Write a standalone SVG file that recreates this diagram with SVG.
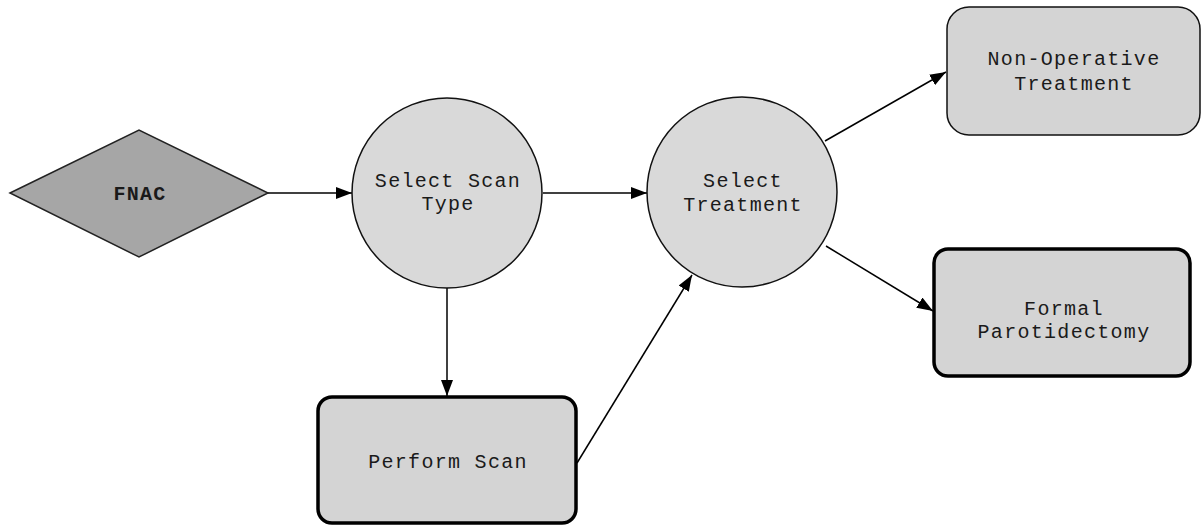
<svg xmlns="http://www.w3.org/2000/svg" width="1202" height="526" viewBox="0 0 1202 526">
  <defs>
    <marker id="arrow" viewBox="0 0 16 12" refX="16" refY="6" markerWidth="16" markerHeight="12" markerUnits="userSpaceOnUse" orient="auto">
      <path d="M0,0 L16,6 L0,12 Z" fill="#000"/>
    </marker>
  </defs>
  <style>
    .lbl { font-family: "Liberation Mono", "Courier New", monospace; font-size: 20px; letter-spacing: 1.3px; fill: #1a1a1a; text-anchor: middle; }
    .bold { font-weight: bold; }
    .circle { fill: #d9d9d9; stroke: #111; stroke-width: 1.5; }
    .thin { fill: #d4d4d4; stroke: #111; stroke-width: 1.5; }
    .thick { fill: #d4d4d4; stroke: #000; stroke-width: 3.5; }
    .diamond { fill: #a6a6a6; stroke: #222; stroke-width: 1.5; }
    .edge { stroke: #000; stroke-width: 1.5; fill: none; marker-end: url(#arrow); }
  </style>
  <rect width="1202" height="526" fill="#fff"/>

  <g id="connectors">
    <line class="edge" x1="268" y1="193" x2="352" y2="193"/>
    <line class="edge" x1="543" y1="193" x2="647" y2="193"/>
    <line class="edge" x1="447" y1="288" x2="447" y2="396"/>
    <line class="edge" x1="577" y1="463" x2="692" y2="275"/>
    <line class="edge" x1="825" y1="141" x2="946" y2="72"/>
    <line class="edge" x1="826" y1="246" x2="933" y2="311"/>
  </g>

  <g id="fnac">
    <polygon class="diamond" points="10,193 139,130 268,193 139,257"/>
    <text class="lbl bold" x="140" y="200">FNAC</text>
  </g>

  <g id="select-scan-type">
    <circle class="circle" cx="447" cy="193" r="95"/>
    <text class="lbl" x="448" y="187">Select Scan</text>
    <text class="lbl" x="448" y="210">Type</text>
  </g>

  <g id="select-treatment">
    <circle class="circle" cx="742" cy="192" r="95"/>
    <text class="lbl" x="743" y="187">Select</text>
    <text class="lbl" x="743" y="211">Treatment</text>
  </g>

  <g id="perform-scan">
    <rect class="thick" x="318" y="397" width="258" height="126" rx="14"/>
    <text class="lbl" x="448" y="468">Perform Scan</text>
  </g>

  <g id="non-operative-treatment">
    <rect class="thin" x="947" y="7" width="253" height="128" rx="22"/>
    <text class="lbl" x="1074" y="65">Non-Operative</text>
    <text class="lbl" x="1074" y="90">Treatment</text>
  </g>

  <g id="formal-parotidectomy">
    <rect class="thick" x="934" y="249" width="256" height="127" rx="14"/>
    <text class="lbl" x="1064" y="315">Formal</text>
    <text class="lbl" x="1064" y="338">Parotidectomy</text>
  </g>
</svg>
